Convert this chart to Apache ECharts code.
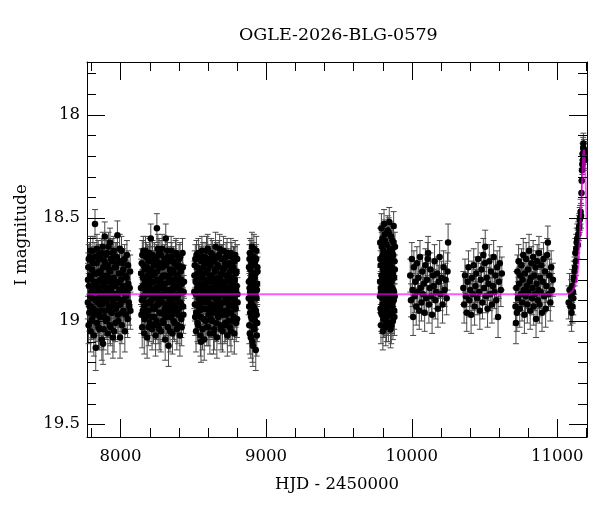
<!DOCTYPE html>
<html>
<head>
<meta charset="utf-8">
<script src="https://cdn.jsdelivr.net/npm/echarts@6/dist/echarts.min.js"></script>
<style>
  html, body { margin: 0; padding: 0; background: #fff; }
  #chart { width: 600px; height: 512px; }
</style>
</head>
<body>
<div id="chart"></div>
<script>
// OGLE photometry, [HJD-2450000, I mag, error], one array per season
const s1 = [[7776,18.91,0.08],[7779,18.74,0.07],[7781,19.02,0.09],[7784,18.83,0.08],[7786,18.96,0.09],[7789,18.69,0.07],[7792,18.88,0.08],[7795,19.05,0.10],[7797,18.79,0.07],[7800,18.93,0.08],[7803,18.71,0.07],[7806,18.99,0.09],[7808,18.85,0.08],[7811,18.66,0.07],[7814,18.94,0.09],[7817,19.07,0.10],[7819,18.81,0.08],[7822,18.77,0.07],[7825,18.53,0.07],[7828,18.90,0.08],[7830,19.13,0.11],[7833,18.86,0.08],[7836,18.72,0.07],[7839,19.01,0.09],[7841,18.84,0.08],[7844,18.97,0.09],[7847,18.68,0.07],[7850,18.89,0.08],[7853,18.76,0.08],[7855,19.04,0.10],[7858,18.92,0.08],[7861,18.80,0.08],[7864,18.70,0.07],[7867,18.95,0.09],[7870,18.87,0.08],[7872,19.09,0.10],[7875,18.78,0.07],[7878,18.64,0.07],[7880,19.11,0.10],[7883,18.90,0.08],[7886,18.82,0.08],[7889,18.98,0.09],[7892,18.59,0.07],[7895,18.86,0.08],[7898,18.73,0.07],[7901,19.00,0.09],[7904,18.91,0.08],[7907,18.67,0.07],[7910,18.84,0.08],[7913,19.06,0.10],[7916,18.79,0.08],[7919,18.94,0.09],[7922,18.75,0.07],[7925,18.88,0.08],[7928,18.62,0.07],[7931,19.03,0.09],[7934,18.85,0.08],[7938,18.96,0.09],[7941,18.71,0.07],[7944,18.89,0.08],[7948,19.08,0.10],[7951,18.80,0.08],[7954,18.66,0.07],[7958,18.93,0.09],[7961,18.83,0.08],[7965,19.01,0.09],[7968,18.74,0.07],[7972,18.87,0.08],[7975,18.69,0.07],[7979,18.585,0.07],[7982,18.97,0.09],[7986,18.81,0.08],[7990,18.92,0.08],[7994,18.65,0.07],[7997,19.08,0.10],[8001,18.86,0.08],[8005,18.77,0.07],[8009,19.02,0.09],[8013,18.90,0.08],[8017,18.72,0.07],[8021,18.95,0.09],[8025,18.84,0.08],[8030,19.05,0.10],[8034,18.78,0.07],[8039,18.88,0.08],[8044,18.68,0.07],[8049,18.99,0.09],[8054,18.82,0.08],[8060,18.93,0.09],[8066,18.76,0.08],
  [7777,18.80,0.08],[7782,18.70,0.07],[7788,18.93,0.09],[7791,18.78,0.07],[7794,18.66,0.07],[7799,18.86,0.08],[7802,19.00,0.09],[7805,18.75,0.07],[7810,18.89,0.08],[7813,18.72,0.07],[7816,18.84,0.08],[7821,18.97,0.09],[7824,18.69,0.07],[7827,18.82,0.08],[7832,18.95,0.09],[7835,18.77,0.07],[7838,18.65,0.07],[7843,18.91,0.08],[7846,18.81,0.08],[7849,19.03,0.10],[7852,18.70,0.07],[7857,18.85,0.08],[7860,18.98,0.09],[7863,18.76,0.07],[7866,18.88,0.08],[7869,18.67,0.07],[7874,18.92,0.08],[7877,18.83,0.08],[7882,18.74,0.07],[7885,19.04,0.10],[7888,18.87,0.08],[7891,18.71,0.07],[7894,18.95,0.09],[7897,18.80,0.08],[7900,18.68,0.07],[7903,18.90,0.08],[7906,18.78,0.07],[7909,18.99,0.09],[7912,18.73,0.07],[7915,18.86,0.08],[7918,18.64,0.07],[7921,18.93,0.09],[7924,18.81,0.08],[7927,19.02,0.09],[7930,18.76,0.07],[7933,18.88,0.08],[7936,18.70,0.07],[7940,18.96,0.09],[7943,18.83,0.08],[7946,18.67,0.07],[7950,18.91,0.08],[7953,18.79,0.08],[7956,19.05,0.10],[7960,18.74,0.07],[7963,18.87,0.08],[7967,18.69,0.07],[7970,18.94,0.09],[7974,18.82,0.08],[7977,18.72,0.07],[7981,18.89,0.08],[7984,19.00,0.09],[7988,18.77,0.07],[7992,18.85,0.08],[7996,18.71,0.07],[7999,18.92,0.09],[8003,18.80,0.08],[8007,18.66,0.07],[8011,18.96,0.09],[8015,18.83,0.08],[8019,18.75,0.07],[8023,18.90,0.08],[8028,18.70,0.07],[8032,18.87,0.08],[8037,18.97,0.09],[8042,18.79,0.08],[8047,18.86,0.08],[8052,18.73,0.07],[8057,18.91,0.08],[8063,18.84,0.08],[8068,18.95,0.09]];
const s2 = [[8141,18.84,0.08],[8144,18.97,0.09],[8146,18.72,0.07],[8149,19.03,0.10],[8152,18.88,0.08],[8155,18.79,0.08],[8157,18.66,0.07],[8160,18.93,0.09],[8163,19.06,0.10],[8166,18.82,0.08],[8168,18.75,0.07],[8171,18.99,0.09],[8174,18.86,0.08],[8177,18.69,0.07],[8180,18.91,0.08],[8183,19.08,0.10],[8186,18.78,0.07],[8189,18.87,0.08],[8192,18.95,0.09],[8195,18.71,0.07],[8198,18.83,0.08],[8201,19.01,0.09],[8204,18.76,0.07],[8208,18.60,0.07],[8211,18.90,0.08],[8214,18.81,0.08],[8217,19.04,0.10],[8220,18.68,0.07],[8223,18.94,0.09],[8226,18.85,0.08],[8229,18.73,0.07],[8232,18.98,0.09],[8235,18.89,0.08],[8238,18.77,0.07],[8241,19.07,0.10],[8244,18.84,0.08],[8247,18.70,0.07],[8250,18.55,0.07],[8253,18.92,0.09],[8256,18.80,0.08],[8259,19.02,0.09],[8262,18.87,0.08],[8265,18.67,0.07],[8268,18.96,0.09],[8271,18.83,0.08],[8274,18.74,0.07],[8277,19.05,0.10],[8280,18.91,0.08],[8283,18.79,0.08],[8286,18.65,0.07],[8289,18.88,0.08],[8292,19.00,0.09],[8295,18.82,0.08],[8298,18.72,0.07],[8301,18.97,0.09],[8304,18.86,0.08],[8307,19.09,0.10],[8311,18.60,0.07],[8314,18.78,0.07],[8317,18.93,0.09],[8320,18.85,0.08],[8323,18.69,0.07],[8326,19.03,0.09],[8330,19.12,0.10],[8333,18.81,0.08],[8336,18.90,0.08],[8339,18.75,0.07],[8342,18.98,0.09],[8345,18.87,0.08],[8348,18.66,0.07],[8351,18.94,0.09],[8354,18.80,0.08],[8357,19.06,0.10],[8360,18.84,0.08],[8363,18.71,0.07],[8366,18.92,0.08],[8369,18.77,0.07],[8372,19.01,0.09],[8375,18.89,0.08],[8378,18.68,0.07],[8381,18.95,0.09],[8384,18.83,0.08],[8387,19.04,0.10],[8390,18.74,0.07],[8393,18.88,0.08],[8396,18.97,0.09],[8399,18.79,0.08],[8402,18.70,0.07],[8405,18.91,0.08],[8408,19.07,0.10],[8411,18.85,0.08],[8414,18.76,0.07],[8418,18.99,0.09],[8422,18.82,0.08],[8426,18.67,0.07],[8430,18.93,0.09],[8434,18.86,0.08],
  [8142,18.77,0.07],[8147,18.90,0.08],[8150,18.68,0.07],[8153,18.95,0.09],[8156,18.83,0.08],[8159,18.73,0.07],[8162,18.88,0.08],[8165,18.99,0.09],[8169,18.80,0.08],[8172,18.66,0.07],[8175,18.92,0.08],[8178,18.84,0.08],[8181,18.74,0.07],[8184,18.97,0.09],[8187,18.70,0.07],[8190,18.86,0.08],[8193,19.03,0.09],[8196,18.79,0.08],[8199,18.67,0.07],[8202,18.91,0.08],[8206,18.82,0.08],[8209,18.75,0.07],[8212,18.98,0.09],[8215,18.87,0.08],[8218,18.71,0.07],[8221,18.93,0.09],[8224,18.78,0.07],[8227,19.02,0.09],[8230,18.85,0.08],[8233,18.69,0.07],[8236,18.94,0.09],[8239,18.81,0.08],[8242,18.73,0.07],[8245,18.89,0.08],[8248,19.00,0.09],[8251,18.76,0.07],[8254,18.86,0.08],[8257,18.65,0.07],[8260,18.92,0.08],[8263,18.80,0.08],[8266,19.04,0.10],[8269,18.72,0.07],[8272,18.90,0.08],[8275,18.83,0.08],[8278,18.68,0.07],[8281,18.96,0.09],[8284,18.84,0.08],[8287,18.74,0.07],[8290,18.91,0.08],[8293,18.78,0.07],[8296,19.01,0.09],[8299,18.87,0.08],[8302,18.70,0.07],[8305,18.94,0.09],[8309,18.82,0.08],[8312,18.73,0.07],[8315,18.98,0.09],[8318,18.88,0.08],[8321,18.66,0.07],[8324,18.92,0.08],[8328,18.79,0.08],[8331,18.95,0.09],[8334,18.71,0.07],[8337,18.85,0.08],[8340,19.05,0.10],[8343,18.77,0.07],[8346,18.90,0.08],[8349,18.81,0.08],[8352,18.69,0.07],[8355,18.97,0.09],[8358,18.86,0.08],[8361,18.75,0.07],[8364,19.00,0.09],[8367,18.83,0.08],[8370,18.72,0.07],[8373,18.93,0.09],[8376,18.80,0.08],[8379,18.89,0.08],[8382,18.67,0.07],[8385,18.96,0.09],[8388,18.84,0.08],[8391,18.78,0.07],[8394,19.02,0.09],[8397,18.87,0.08],[8400,18.73,0.07],[8403,18.94,0.09],[8406,18.82,0.08],[8409,18.69,0.07],[8412,18.91,0.08],[8416,18.80,0.08],[8420,19.03,0.09],[8424,18.86,0.08],[8428,18.74,0.07],[8432,18.97,0.09],[8436,18.81,0.08]];
const s3 = [[8507,18.86,0.08],[8510,18.73,0.07],[8513,18.98,0.09],[8516,18.81,0.08],[8519,19.05,0.10],[8522,18.68,0.07],[8525,18.92,0.08],[8528,18.84,0.08],[8531,18.77,0.07],[8534,19.02,0.09],[8537,18.89,0.08],[8540,18.70,0.07],[8543,18.95,0.09],[8546,18.83,0.08],[8549,19.07,0.10],[8553,19.10,0.10],[8556,18.79,0.07],[8559,18.66,0.07],[8562,18.91,0.08],[8565,18.86,0.08],[8568,18.74,0.07],[8571,18.99,0.09],[8575,19.09,0.10],[8578,18.82,0.08],[8581,18.69,0.07],[8584,18.94,0.09],[8587,18.87,0.08],[8590,18.76,0.07],[8593,19.03,0.09],[8596,18.80,0.08],[8599,18.65,0.07],[8602,18.90,0.08],[8605,18.97,0.09],[8608,18.72,0.07],[8611,18.85,0.08],[8614,19.06,0.10],[8617,18.78,0.07],[8620,18.93,0.09],[8623,18.67,0.07],[8626,18.88,0.08],[8629,19.00,0.09],[8632,18.81,0.08],[8635,18.71,0.07],[8638,18.96,0.09],[8641,18.84,0.08],[8644,19.04,0.10],[8647,18.75,0.07],[8650,18.89,0.08],[8653,18.64,0.07],[8656,18.92,0.08],[8659,18.80,0.08],[8662,19.08,0.10],[8665,18.86,0.08],[8668,18.73,0.07],[8671,18.98,0.09],[8674,18.83,0.08],[8677,18.68,0.07],[8680,18.94,0.09],[8683,18.79,0.08],[8686,19.02,0.09],[8689,18.87,0.08],[8692,18.70,0.07],[8695,18.91,0.08],[8698,18.77,0.07],[8701,19.05,0.10],[8704,18.85,0.08],[8707,18.66,0.07],[8710,18.95,0.09],[8713,18.82,0.08],[8716,18.74,0.07],[8719,19.01,0.09],[8722,18.88,0.08],[8725,18.69,0.07],[8728,18.97,0.09],[8731,18.84,0.08],[8734,19.07,0.10],[8737,18.78,0.07],[8740,18.90,0.08],[8743,18.72,0.07],[8746,18.93,0.09],[8749,18.81,0.08],[8752,19.03,0.09],[8755,18.86,0.08],[8758,18.67,0.07],[8761,18.96,0.09],[8764,18.83,0.08],[8767,18.75,0.07],[8770,19.00,0.09],[8773,18.89,0.08],[8776,18.71,0.07],[8779,18.92,0.08],[8782,19.06,0.10],[8785,18.80,0.08],[8788,18.68,0.07],[8791,18.94,0.09],[8794,18.85,0.08],[8797,18.76,0.07],[8800,18.99,0.09],[8803,18.87,0.08],
  [8508,18.78,0.07],[8511,18.92,0.08],[8514,18.70,0.07],[8517,18.87,0.08],[8520,18.96,0.09],[8523,18.80,0.08],[8526,18.74,0.07],[8529,19.01,0.09],[8532,18.85,0.08],[8535,18.67,0.07],[8538,18.93,0.09],[8541,18.82,0.08],[8544,18.76,0.07],[8547,18.90,0.08],[8551,18.98,0.09],[8554,18.71,0.07],[8557,18.88,0.08],[8560,18.79,0.08],[8563,19.04,0.10],[8566,18.69,0.07],[8569,18.84,0.08],[8572,18.94,0.09],[8576,18.77,0.07],[8579,18.89,0.08],[8582,18.72,0.07],[8585,19.00,0.09],[8588,18.83,0.08],[8591,18.66,0.07],[8594,18.91,0.08],[8597,18.86,0.08],[8600,18.75,0.07],[8603,19.03,0.09],[8606,18.81,0.08],[8609,18.70,0.07],[8612,18.95,0.09],[8615,18.88,0.08],[8618,18.73,0.07],[8621,18.99,0.09],[8624,18.84,0.08],[8627,18.78,0.07],[8630,18.92,0.08],[8633,18.68,0.07],[8636,18.87,0.08],[8639,19.06,0.10],[8642,18.80,0.08],[8645,18.71,0.07],[8648,18.94,0.09],[8651,18.85,0.08],[8654,18.76,0.07],[8657,19.01,0.09],[8660,18.83,0.08],[8663,18.69,0.07],[8666,18.90,0.08],[8669,18.79,0.08],[8672,18.96,0.09],[8675,18.74,0.07],[8678,18.88,0.08],[8681,18.65,0.07],[8684,18.93,0.09],[8687,18.82,0.08],[8690,19.04,0.10],[8693,18.77,0.07],[8696,18.86,0.08],[8699,18.70,0.07],[8702,18.97,0.09],[8705,18.81,0.08],[8708,18.75,0.07],[8711,18.91,0.08],[8714,18.84,0.08],[8717,19.02,0.09],[8720,18.72,0.07],[8723,18.89,0.08],[8726,18.78,0.07],[8729,18.95,0.09],[8732,18.67,0.07],[8735,18.87,0.08],[8738,18.80,0.08],[8741,19.00,0.09],[8744,18.73,0.07],[8747,18.85,0.08],[8750,18.92,0.08],[8753,18.76,0.07],[8756,18.88,0.08],[8759,19.05,0.10],[8762,18.79,0.08],[8765,18.69,0.07],[8768,18.93,0.09],[8771,18.84,0.08],[8774,18.74,0.07],[8777,18.98,0.09],[8780,18.82,0.08],[8783,18.71,0.07],[8786,18.90,0.08],[8789,18.86,0.08],[8792,18.77,0.07],[8795,19.01,0.09],[8798,18.83,0.08],[8801,18.70,0.07],[8804,18.91,0.08]];
const s4 = [[8881,18.89,0.08],[8883,18.74,0.07],[8885,19.02,0.09],[8887,18.84,0.08],[8889,18.67,0.07],[8891,18.96,0.09],[8893,18.80,0.08],[8895,19.08,0.10],[8897,18.91,0.08],[8899,18.72,0.07],[8901,18.87,0.08],[8903,18.64,0.07],[8905,18.99,0.09],[8907,18.82,0.08],[8909,19.12,0.10],[8911,18.77,0.07],[8913,18.93,0.09],[8915,18.69,0.07],[8917,18.86,0.08],[8919,19.04,0.09],[8921,18.79,0.08],[8923,18.95,0.09],[8925,18.71,0.07],[8927,18.88,0.08],[8929,19.14,0.10],[8931,18.83,0.08],[8933,18.66,0.07],[8935,18.97,0.09],[8937,18.85,0.08],[8939,19.01,0.09],[8941,18.76,0.07],
  [8882,18.81,0.08],[8884,18.93,0.09],[8886,18.70,0.07],[8888,19.06,0.10],[8890,18.86,0.08],[8892,18.75,0.07],[8894,18.90,0.08],[8896,18.68,0.07],[8898,18.98,0.09],[8900,18.83,0.08],[8902,18.78,0.07],[8904,18.92,0.08],[8906,19.10,0.10],[8908,18.73,0.07],[8910,18.88,0.08],[8912,18.80,0.08],[8914,19.03,0.09],[8916,18.65,0.07],[8918,18.94,0.09],[8920,18.84,0.08],[8922,18.72,0.07],[8924,19.00,0.09],[8926,18.87,0.08],[8928,18.77,0.07],[8930,18.95,0.09],[8932,18.70,0.07],[8934,18.89,0.08],[8936,19.07,0.10],[8938,18.82,0.08],[8940,18.74,0.07]];
const s5 = [[9783,18.81,0.07],[9784,18.62,0.07],[9786,18.94,0.08],[9787,18.73,0.07],[9789,19.02,0.09],[9790,18.86,0.08],[9792,18.55,0.07],[9793,18.78,0.07],[9795,18.97,0.09],[9796,18.69,0.07],[9798,18.89,0.08],[9799,18.60,0.07],[9801,18.83,0.08],[9802,19.05,0.09],[9804,18.75,0.07],[9805,18.92,0.08],[9807,18.66,0.07],[9808,18.85,0.08],[9810,18.53,0.07],[9811,18.99,0.09],[9813,18.71,0.07],[9814,18.88,0.08],[9816,18.79,0.07],[9817,18.58,0.07],[9819,18.95,0.08],[9820,18.82,0.08],[9822,19.03,0.09],[9823,18.68,0.07],[9825,18.90,0.08],[9826,18.76,0.07],[9828,18.63,0.07],[9829,18.87,0.08],[9831,18.98,0.09],[9832,18.72,0.07],[9834,18.84,0.08],[9835,18.56,0.07],[9837,18.93,0.08],[9838,18.80,0.07],[9840,19.01,0.09],[9841,18.67,0.07],[9843,18.86,0.08],[9844,18.74,0.07],[9846,18.52,0.07],[9847,18.91,0.08],[9849,18.78,0.07],[9850,18.96,0.09],[9852,18.65,0.07],[9853,18.83,0.08],[9855,19.04,0.09],[9856,18.70,0.07],[9858,18.89,0.08],[9859,18.59,0.07],[9861,18.81,0.08],[9862,18.97,0.09],[9864,18.74,0.07],[9865,18.87,0.08],[9867,18.61,0.07],[9868,18.93,0.08],[9870,18.77,0.07],[9871,19.00,0.09],[9873,18.68,0.07],[9874,18.85,0.08],[9876,18.54,0.07],[9877,18.90,0.08],[9879,18.79,0.07],[9880,18.95,0.09],[9882,18.71,0.07],[9883,18.88,0.08],[9885,18.64,0.07],
  [9782,18.88,0.08],[9785,18.70,0.07],[9788,18.84,0.08],[9791,18.96,0.09],[9794,18.64,0.07],[9797,18.80,0.08],[9800,18.92,0.08],[9803,18.68,0.07],[9806,18.99,0.09],[9809,18.77,0.07],[9812,18.86,0.08],[9815,18.61,0.07],[9818,18.90,0.08],[9821,18.73,0.07],[9824,18.83,0.08],[9827,19.01,0.09],[9830,18.69,0.07],[9833,18.94,0.08],[9836,18.79,0.07],[9839,18.87,0.08],[9842,18.57,0.07],[9845,18.82,0.08],[9848,18.97,0.09],[9851,18.72,0.07],[9854,18.89,0.08],[9857,18.76,0.07],[9860,19.02,0.09],[9863,18.66,0.07],[9866,18.84,0.08],[9869,18.91,0.08],[9872,18.78,0.07],[9875,18.62,0.07],[9878,18.86,0.08],[9881,18.98,0.09],[9884,18.75,0.07]];
const s6 = [[9990,18.78,0.08],[9995,18.90,0.08],[10001,18.70,0.08],[10006,18.85,0.08],[10010,18.98,0.09],[10015,18.74,0.08],[10020,18.88,0.08],[10025,18.81,0.08],[10031,18.93,0.09],[10036,18.72,0.08],[10041,18.86,0.08],[10046,18.79,0.08],[10052,18.95,0.09],[10057,18.69,0.08],[10062,18.84,0.08],[10067,18.91,0.09],[10073,18.76,0.08],[10078,18.87,0.08],[10083,18.82,0.08],[10089,18.96,0.09],[10094,18.73,0.08],[10100,18.89,0.08],[10105,18.80,0.08],[10110,18.70,0.08],[10113,18.67,0.08],[10118,18.92,0.09],[10124,18.84,0.08],[10129,18.75,0.08],[10135,18.88,0.08],[10140,18.97,0.09],[10146,18.78,0.08],[10151,18.83,0.08],[10157,18.71,0.08],[10163,18.90,0.09],[10168,18.86,0.08],[10174,18.77,0.08],[10180,18.94,0.09],[10186,18.81,0.08],[10192,18.69,0.08],[10198,18.87,0.08],[10205,18.79,0.08],[10212,18.92,0.09],[10219,18.74,0.08],[10226,18.85,0.08],[10233,18.80,0.08],[10240,18.89,0.08],[10246,18.76,0.09],[10250,18.62,0.09]];
const s7 = [[10355,18.84,0.08],[10360,18.92,0.09],[10366,18.78,0.08],[10372,18.88,0.08],[10378,18.96,0.09],[10384,18.81,0.08],[10390,18.74,0.08],[10396,18.90,0.08],[10402,18.85,0.08],[10408,18.97,0.09],[10414,18.79,0.08],[10420,18.87,0.08],[10426,18.73,0.08],[10432,18.93,0.09],[10438,18.83,0.08],[10444,18.77,0.08],[10450,18.89,0.08],[10456,18.70,0.08],[10462,18.86,0.08],[10468,18.95,0.09],[10474,18.80,0.08],[10480,18.75,0.08],[10486,18.91,0.08],[10492,18.68,0.08],[10497,18.84,0.08],[10502,18.72,0.08],[10505,18.64,0.08],[10510,18.88,0.08],[10515,18.79,0.08],[10521,18.94,0.09],[10527,18.82,0.08],[10533,18.71,0.08],[10539,18.87,0.08],[10545,18.76,0.08],[10551,18.92,0.09],[10557,18.83,0.08],[10563,18.69,0.08],[10569,18.86,0.08],[10575,18.78,0.08],[10581,18.90,0.09],[10587,18.74,0.08],[10593,18.98,0.10],[10599,18.81,0.08],[10605,18.72,0.08],[10612,18.85,0.08],[10619,18.77,0.08]];
const s8 = [[10713,18.93,0.09],[10716,19.01,0.10],[10719,18.84,0.08],[10722,18.96,0.09],[10726,18.76,0.08],[10730,18.89,0.08],[10734,18.71,0.08],[10738,18.82,0.08],[10742,18.94,0.09],[10746,18.78,0.08],[10750,18.87,0.08],[10754,18.73,0.08],[10758,18.91,0.09],[10762,18.80,0.08],[10766,18.68,0.08],[10770,18.85,0.08],[10774,18.97,0.09],[10778,18.77,0.08],[10782,18.88,0.08],[10786,18.70,0.08],[10790,18.83,0.08],[10794,18.92,0.09],[10798,18.75,0.08],[10802,18.86,0.08],[10806,18.66,0.08],[10810,18.81,0.08],[10814,18.95,0.09],[10818,18.79,0.08],[10822,18.72,0.08],[10826,18.89,0.08],[10830,18.84,0.08],[10834,18.69,0.08],[10838,18.93,0.09],[10842,18.78,0.08],[10846,18.87,0.08],[10850,18.74,0.08],[10854,18.99,0.09],[10858,18.82,0.08],[10862,18.71,0.08],[10866,18.90,0.08],[10870,18.85,0.08],[10874,18.67,0.08],[10878,18.92,0.09],[10882,18.79,0.08],[10886,18.86,0.08],[10890,18.73,0.08],[10895,18.96,0.09],[10900,18.81,0.08],[10905,18.70,0.08],[10910,18.88,0.08],[10915,18.76,0.08],[10920,18.94,0.09],[10925,18.83,0.08],[10930,18.68,0.08],[10935,18.62,0.08],[10940,18.87,0.08],[10946,18.78,0.08],[10952,18.91,0.09],[10958,18.74,0.08],[10964,18.85,0.08],[10970,18.80,0.08]];
const s9 = [[11078,18.91,0.08],[11084,18.85,0.08],[11090,18.93,0.09],[11095,18.88,0.08],[11098,18.96,0.09],[11102,18.83,0.08],[11105,18.93,0.08],[11108,18.86,0.08],[11110,18.89,0.08],[11113,18.79,0.08],[11116,18.80,0.07],[11119,18.76,0.07],[11122,18.74,0.07],[11124,18.67,0.07],[11127,18.71,0.07],[11130,18.65,0.07],[11133,18.62,0.07],[11137,18.60,0.07],[11141,18.63,0.07],[11144,18.58,0.06],[11148,18.55,0.06],[11151,18.54,0.06],[11154,18.51,0.06],[11157,18.50,0.06],[11160,18.47,0.06],[11163,18.49,0.06],[11166,18.38,0.06],[11168,18.32,0.06],[11170,18.27,0.05],[11172,18.24,0.05],[11174,18.19,0.05],[11176,18.22,0.05],[11178,18.16,0.05],[11179,18.14,0.05],[11181,18.19,0.05],[11183,18.17,0.05],[11185,18.21,0.05],[11188,18.18,0.05],[11190,18.22,0.05]];

// model curve
const modelT   = [7770, 11060, 11087, 11105, 11122, 11135, 11144, 11150, 11156, 11162, 11168, 11174, 11179, 11183, 11187, 11191, 11195, 11199, 11204];
const modelMag = [18.87, 18.87, 18.866, 18.855, 18.83, 18.79, 18.74, 18.67, 18.58, 18.48, 18.37, 18.27, 18.19, 18.17, 18.19, 18.25, 18.33, 18.45, 18.6];

// ticks
const xMajor = [8000, 9000, 10000, 11000];
const xMinor = [7800, 8200, 8400, 8600, 8800, 9200, 9400, 9600, 9800, 10200, 10400, 10600, 10800, 11200];
const yMajor = [18, 18.5, 19, 19.5];
const yMinor = [17.8, 17.9, 18.1, 18.2, 18.3, 18.4, 18.6, 18.7, 18.8, 18.9, 19.1, 19.2, 19.3, 19.4];

const FONT = 'DejaVu Serif';
const X_MIN = 7770, X_MAX = 11204;
const Y_MIN = 17.745, Y_MAX = 19.562;
const MAJ = 18, MIN_LEN = 9;

const all = [].concat(s1, s2, s3, s4, s5, s6, s7, s8, s9);
const points = all.map(d => [d[0], d[1]]);
const bars = all.map(d => [d[0], d[1] - d[2], d[1] + d[2]]);
const model = modelT.map((t, i) => [t, modelMag[i]]);

function renderErr(params, api) {
  const x = api.value(0);
  const a = api.coord([x, api.value(1)]);
  const b = api.coord([x, api.value(2)]);
  const w = 3;
  const st = { stroke: '#484848', lineWidth: 1 };
  return {
    type: 'group',
    children: [
      { type: 'line', shape: { x1: a[0], y1: a[1], x2: b[0], y2: b[1] }, style: st },
      { type: 'line', shape: { x1: a[0] - w, y1: a[1], x2: a[0] + w, y2: a[1] }, style: st },
      { type: 'line', shape: { x1: b[0] - w, y1: b[1], x2: b[0] + w, y2: b[1] }, style: st }
    ]
  };
}

const chart = echarts.init(document.getElementById('chart'));
chart.setOption({
  animation: false,
  backgroundColor: '#fff',
  title: {
    text: 'OGLE-2026-BLG-0579',
    left: 239, top: 26, padding: 0,
    textStyle: { color: '#000', fontFamily: FONT, fontSize: 17.5, fontWeight: 'normal' }
  },
  grid: { left: 87, right: 13, top: 62, bottom: 75 },
  xAxis: [{
    type: 'value', min: X_MIN, max: X_MAX, position: 'bottom',
    axisLine: { show: true, onZero: false, lineStyle: { color: '#000', width: 1 } },
    axisTick: { show: false },
    axisLabel: { customValues: xMajor, formatter: v => String(v), color: '#000', fontFamily: FONT, fontSize: 16.5, margin: 11 },
    splitLine: { show: false },
    name: 'HJD - 2450000', nameLocation: 'middle', nameGap: 39,
    nameTextStyle: { color: '#000', fontFamily: FONT, fontSize: 16.5 }
  }, {
    type: 'value', min: X_MIN, max: X_MAX, position: 'top',
    axisLine: { show: true, onZero: false, lineStyle: { color: '#000', width: 1 } },
    axisTick: { show: false }, axisLabel: { show: false }, splitLine: { show: false }
  }],
  yAxis: [{
    type: 'value', min: Y_MIN, max: Y_MAX, inverse: true, position: 'left',
    axisLine: { show: true, onZero: false, lineStyle: { color: '#000', width: 1 } },
    axisTick: { show: false },
    axisLabel: { customValues: yMajor, formatter: v => String(v), color: '#000', fontFamily: FONT, fontSize: 16.5, margin: 7 },
    splitLine: { show: false }
  }, {
    type: 'value', min: Y_MIN, max: Y_MAX, inverse: true, position: 'right',
    axisLine: { show: true, onZero: false, lineStyle: { color: '#000', width: 1 } },
    axisTick: { show: false }, axisLabel: { show: false }, splitLine: { show: false }
  }],
  series: [
    {
      type: 'custom', renderItem: renderErr, data: bars,
      dimensions: ['t', 'lo', 'hi'],
      encode: { x: 0, y: [1, 2] }, z: 2
    },
    {
      type: 'scatter', data: points, symbolSize: 6.5,
      itemStyle: { color: '#000', opacity: 1 }, z: 3
    },
    {
      type: 'line', data: model, showSymbol: false, z: 4,
      lineStyle: { color: 'rgba(255,0,255,0.65)', width: 2 }
    }
  ]
});

// inward ticks on all four sides, placed through the axes' own scales
const pxLeft = chart.convertToPixel({ xAxisIndex: 0 }, X_MIN);
const pxRight = chart.convertToPixel({ xAxisIndex: 0 }, X_MAX);
const pxTop = chart.convertToPixel({ yAxisIndex: 0 }, Y_MIN);
const pxBottom = chart.convertToPixel({ yAxisIndex: 0 }, Y_MAX);
const tickStyle = { stroke: '#000', lineWidth: 1 };
const tickEls = [];
function addX(v, len) {
  const px = Math.round(chart.convertToPixel({ xAxisIndex: 0 }, v)) + 0.5;
  tickEls.push({ type: 'line', shape: { x1: px, y1: pxBottom, x2: px, y2: pxBottom - len }, style: tickStyle, z: 100 });
  tickEls.push({ type: 'line', shape: { x1: px, y1: pxTop, x2: px, y2: pxTop + len }, style: tickStyle, z: 100 });
}
function addY(v, len) {
  const py = Math.round(chart.convertToPixel({ yAxisIndex: 0 }, v)) + 0.5;
  tickEls.push({ type: 'line', shape: { x1: pxLeft, y1: py, x2: pxLeft + len, y2: py }, style: tickStyle, z: 100 });
  tickEls.push({ type: 'line', shape: { x1: pxRight, y1: py, x2: pxRight - len, y2: py }, style: tickStyle, z: 100 });
}
xMajor.forEach(v => addX(v, MAJ));
xMinor.forEach(v => addX(v, MIN_LEN));
yMajor.forEach(v => addY(v, MAJ));
yMinor.forEach(v => addY(v, MIN_LEN));

chart.setOption({
  graphic: [{
    type: 'text', x: 22, y: 235, rotation: Math.PI / 2,
    style: { text: 'I magnitude', fill: '#000', font: '16.5px "DejaVu Serif"', align: 'center', verticalAlign: 'middle' }
  }].concat(tickEls)
});
</script>
</body>
</html>
